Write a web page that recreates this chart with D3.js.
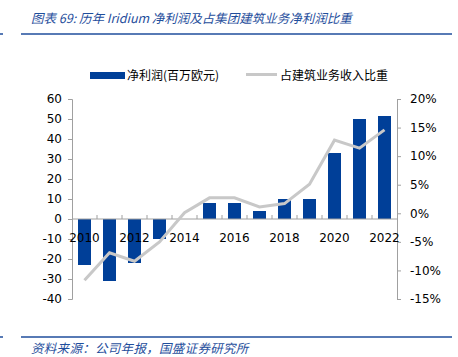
<!DOCTYPE html>
<html><head><meta charset="utf-8">
<script src="https://cdn.jsdelivr.net/npm/d3@7"></script>
<style>body{margin:0;background:#fff}svg{display:block}</style>
</head><body><svg id="c" width="458" height="357"></svg>
<script>
const years = [2010,2011,2012,2013,2014,2015,2016,2017,2018,2019,2020,2021,2022];
const profit = [-23,-31,-22,-10,0,8,8,4,10,10,33,50,51.5];
const share = [-11.7,-6.9,-8.4,-5.0,0.1,2.7,2.7,1.1,1.7,5.1,12.8,11.4,14.6];
const leftTicks = [60,50,40,30,20,10,0,-10,-20,-30,-40];
const rightTicks = [20,15,10,5,0,-5,-10,-15];
const xLabels = [2010,2012,2014,2016,2018,2020,2022];
const seriesNames = ["净利润(百万欧元)","占建筑业务收入比重"];
const title = "图表 69:  历年 Iridium 净利润及占集团建筑业务净利润比重";
const source = "资料来源：公司年报，国盛证券研究所";

const svg = d3.select("#c");
const blue = "#003f98", gray = "#c8c8c8", axisC = "#a0a0a0", hdr = "#1f4e9c";
const font = "'DejaVu Sans', Verdana, sans-serif";
const cjk = "'Noto Sans CJK SC', sans-serif";

const x = d3.scaleBand().domain(years).range([72,397]).paddingInner(0.48).paddingOuter(0.24);
const yL = d3.scaleLinear().domain([-40,60]).range([299,99]);
const yR = d3.scaleLinear().domain([-15,20]).range([299,99]);

// header
svg.append("line").attr("x1",0).attr("x2",3).attr("y1",34).attr("y2",34).attr("stroke",hdr).attr("stroke-width",1.5);
svg.append("line").attr("x1",21).attr("x2",452).attr("y1",34).attr("y2",34).attr("stroke",hdr).attr("stroke-width",1.5);
svg.append("text").attr("x",31).attr("y",23).attr("font-family",cjk).attr("font-style","italic").attr("font-size",12.5).attr("fill",hdr).text(title);
svg.append("line").attr("x1",0).attr("x2",3).attr("y1",337).attr("y2",337).attr("stroke",hdr).attr("stroke-width",1.5);
svg.append("line").attr("x1",21).attr("x2",452).attr("y1",337).attr("y2",337).attr("stroke",hdr).attr("stroke-width",1.5);
svg.append("text").attr("x",31).attr("y",353).attr("font-family",cjk).attr("font-style","italic").attr("font-size",12.5).attr("letter-spacing",0.3).attr("fill",hdr).text(source);

// left axis
const gL = svg.append("g").attr("transform","translate(72,0)")
  .call(d3.axisLeft(yL).tickValues(leftTicks).tickSize(4).tickPadding(6).tickFormat(d=>String(d)));
// right axis
const gR = svg.append("g").attr("transform","translate(397,0)")
  .call(d3.axisRight(yR).tickValues(rightTicks).tickSize(4).tickPadding(9).tickFormat(d=>String(d)+"%"));
[gL,gR].forEach(g=>{
  g.select(".domain").attr("stroke",axisC);
  g.selectAll(".tick line").attr("stroke",axisC);
  g.selectAll("text").attr("font-family",font).attr("font-size",12).attr("fill","#000");
});

// bars
svg.append("g").selectAll("rect").data(years).join("rect")
  .attr("x",d=>x(d)).attr("width",x.bandwidth())
  .attr("y",(d,i)=>yL(Math.max(0,profit[i])))
  .attr("height",(d,i)=>Math.abs(yL(profit[i])-yL(0)))
  .attr("fill",blue);

// x axis line and ticks at band boundaries
const bounds = years.map(d=>x(d)-x.step()*x.paddingInner()/2);
svg.append("line").attr("x1",72).attr("x2",397).attr("y1",yL(0)).attr("y2",yL(0)).attr("stroke",axisC);
svg.append("g").selectAll("line").data(bounds.slice(1)).join("line")
  .attr("x1",d=>d).attr("x2",d=>d).attr("y1",yL(0)-4).attr("y2",yL(0)).attr("stroke",axisC);
svg.append("g").selectAll("text").data(xLabels).join("text")
  .attr("x",d=>x(d)+x.bandwidth()/2).attr("y",yL(0)+23).attr("text-anchor","middle")
  .attr("font-family",font).attr("font-size",12).text(d=>d);

// line
const line = d3.line().x((d,i)=>x(years[i])+x.bandwidth()/2).y(d=>yR(d));
svg.append("path").datum(share).attr("d",line).attr("fill","none").attr("stroke",gray).attr("stroke-width",3);

// legend
svg.append("rect").attr("x",90).attr("y",72).attr("width",35).attr("height",7).attr("fill",blue);
svg.append("text").attr("x",127).attr("y",79.5).attr("font-family",cjk).attr("font-size",12).text(seriesNames[0]);
svg.append("line").attr("x1",246).attr("x2",277).attr("y1",74.5).attr("y2",74.5).attr("stroke",gray).attr("stroke-width",3);
svg.append("text").attr("x",280).attr("y",79.5).attr("font-family",cjk).attr("font-size",12).text(seriesNames[1]);
</script></body></html>
